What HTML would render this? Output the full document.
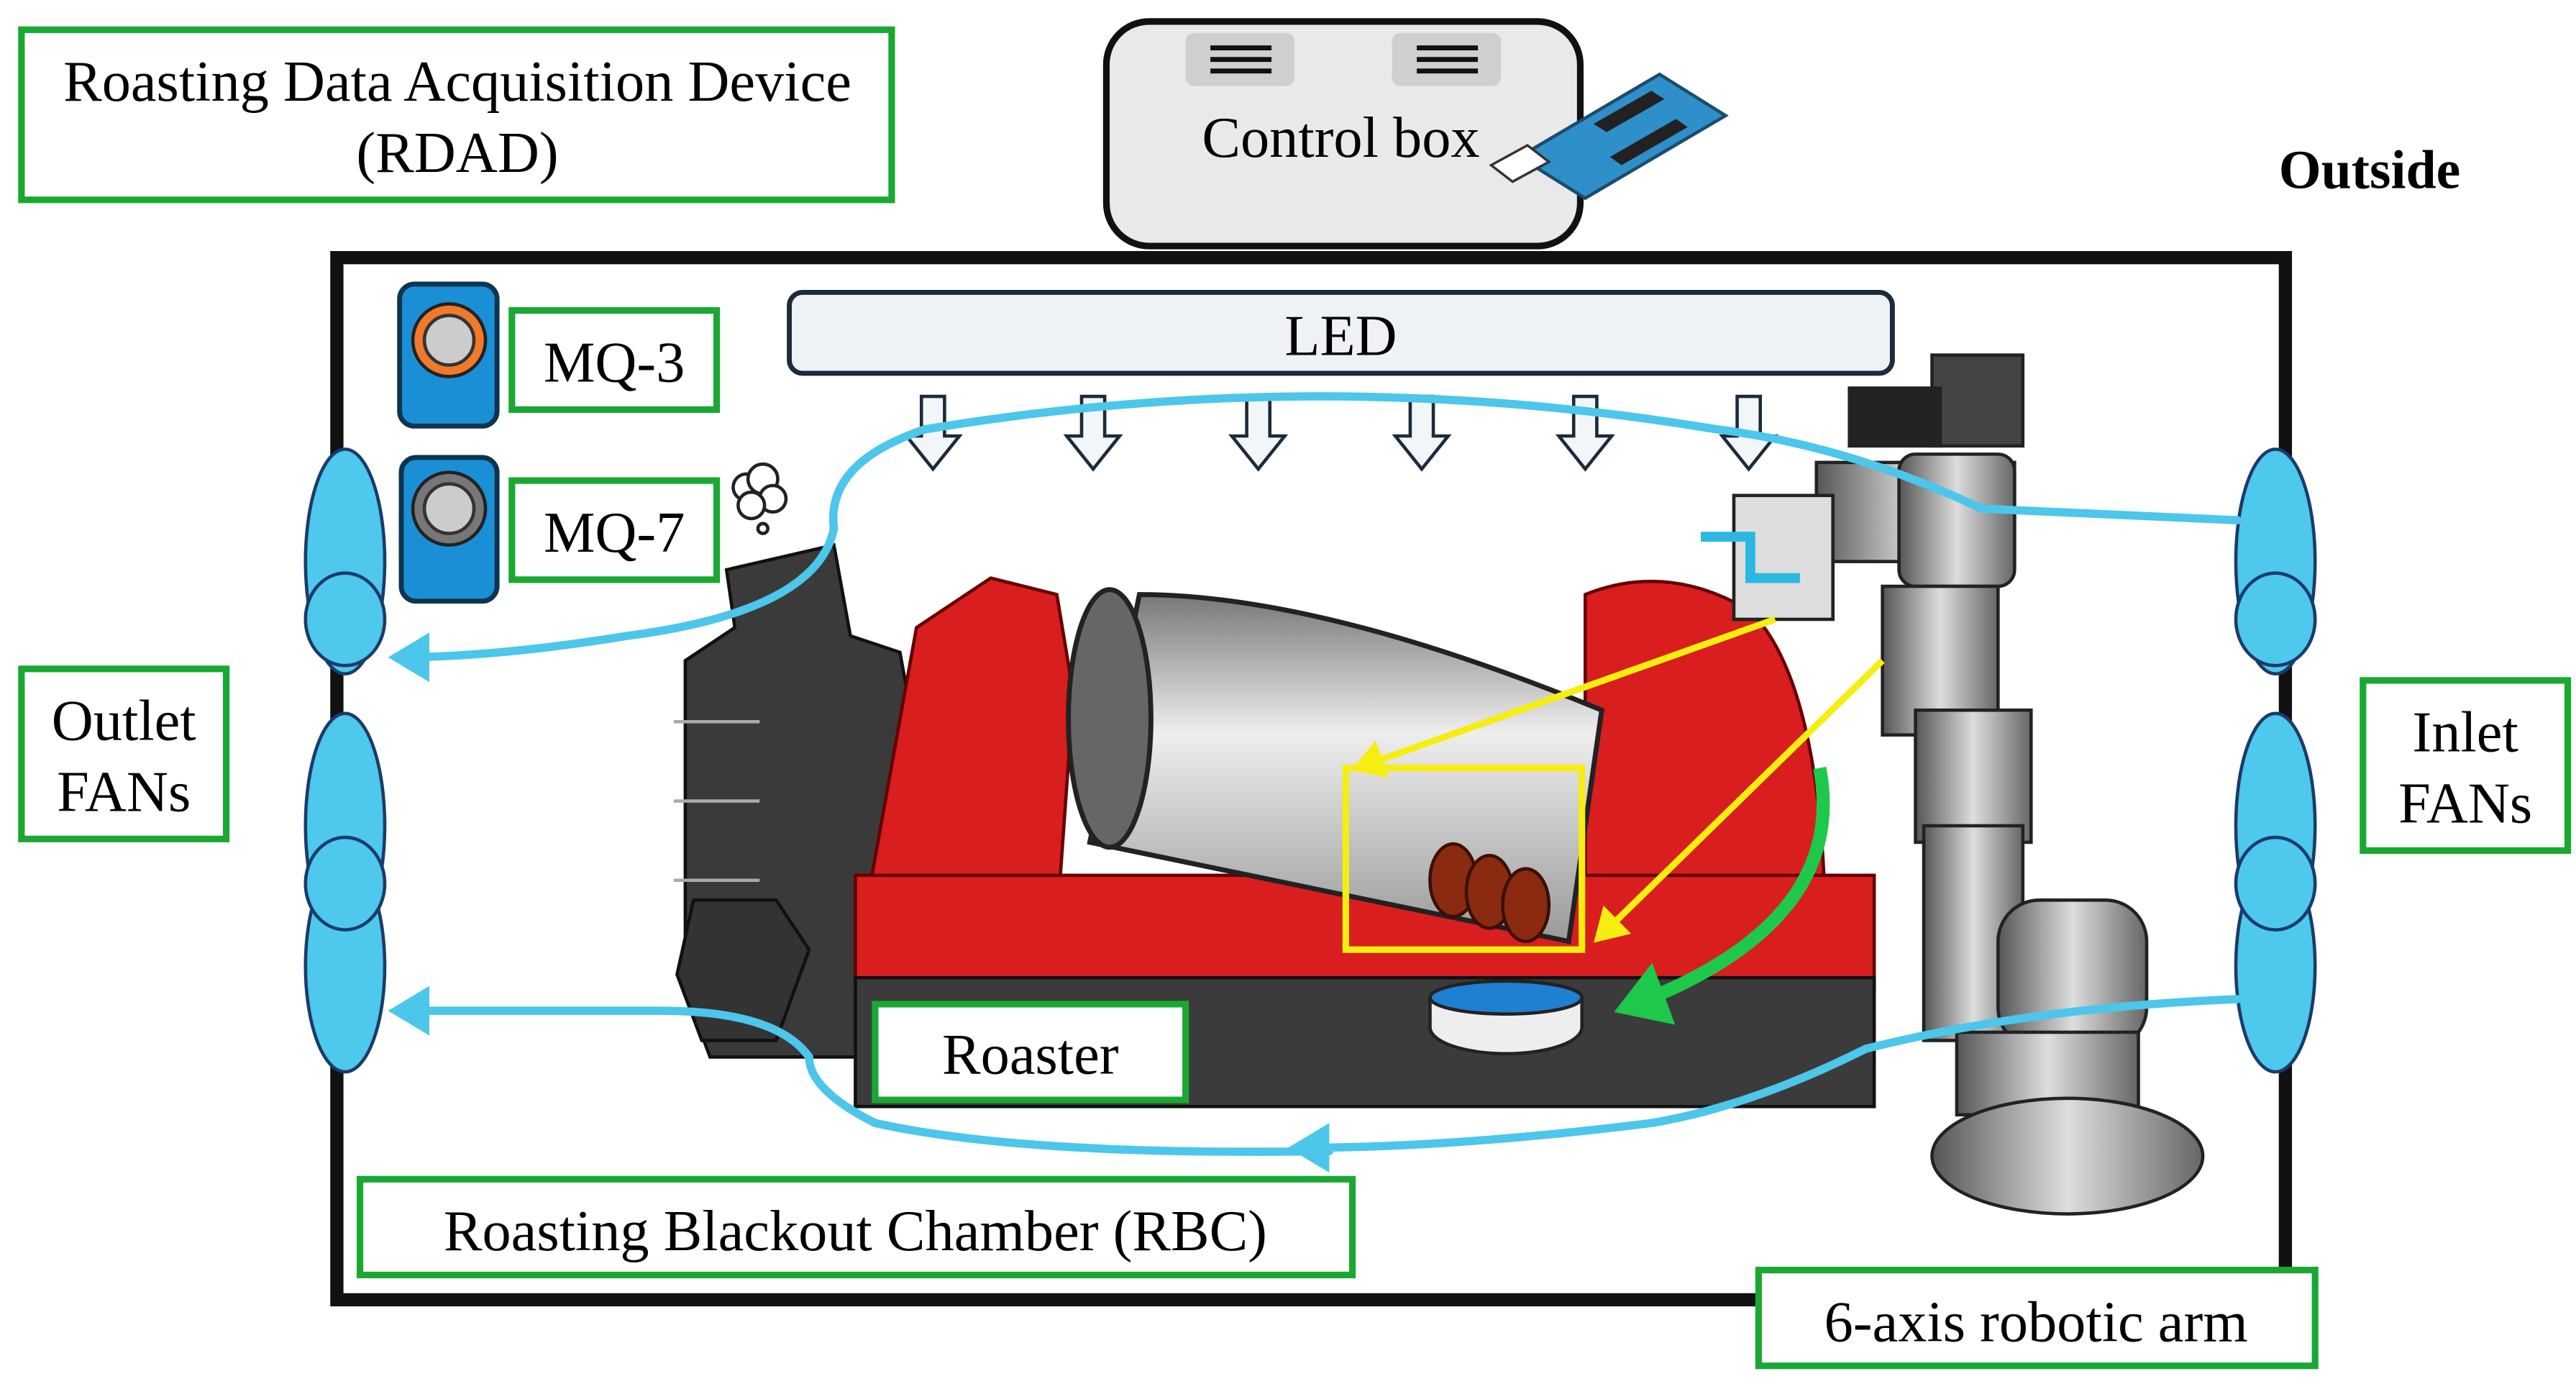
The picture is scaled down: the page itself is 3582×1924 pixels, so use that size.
<!DOCTYPE html>
<html><head><meta charset="utf-8"><style>
html,body{margin:0;padding:0;background:#fff}
svg{display:block}
text{font-family:"Liberation Serif",serif;fill:#000}
</style></head><body>
<svg width="3582" height="1924" viewBox="0 0 1560 838" preserveAspectRatio="none" xmlns="http://www.w3.org/2000/svg">
<defs>
<marker id="ab" markerWidth="6" markerHeight="6" refX="4" refY="3" orient="auto" markerUnits="strokeWidth"><path d="M0,0 L5,3 L0,6 z" fill="#4cc6ea"/></marker>
<marker id="ay" markerWidth="6" markerHeight="6" refX="4" refY="3" orient="auto" markerUnits="strokeWidth"><path d="M0,0 L5,3 L0,6 z" fill="#f5ee10"/></marker>
<marker id="ag" markerWidth="5" markerHeight="5" refX="3" refY="2.5" orient="auto" markerUnits="strokeWidth"><path d="M0,0 L4,2.5 L0,5 z" fill="#1ec84a"/></marker>
<linearGradient id="drum" x1="0" y1="0" x2="0" y2="1"><stop offset="0" stop-color="#777"/><stop offset=".4" stop-color="#eee"/><stop offset="1" stop-color="#999"/></linearGradient>
<linearGradient id="arm" x1="0" y1="0" x2="1" y2="0"><stop offset="0" stop-color="#555"/><stop offset=".5" stop-color="#ddd"/><stop offset="1" stop-color="#666"/></linearGradient>
</defs>

<rect x="13" y="18" width="527" height="103" fill="#fff" stroke="#1aa832" stroke-width="4"/>
<text x="277" y="61" font-size="35" text-anchor="middle">Roasting Data Acquisition Device</text>
<text x="277" y="104" font-size="35" text-anchor="middle">(RDAD)</text>

<rect x="670" y="13" width="287" height="136" rx="26" fill="#e9e9e9" stroke="#111" stroke-width="4"/>
<rect x="718" y="20" width="66" height="32" rx="5" fill="#cfcfcf"/>
<rect x="843" y="20" width="66" height="32" rx="5" fill="#cfcfcf"/>
<g stroke="#111" stroke-width="3"><line x1="733" y1="29" x2="770" y2="29"/><line x1="733" y1="36" x2="770" y2="36"/><line x1="733" y1="43" x2="770" y2="43"/>
<line x1="858" y1="29" x2="895" y2="29"/><line x1="858" y1="36" x2="895" y2="36"/><line x1="858" y1="43" x2="895" y2="43"/></g>
<text x="812" y="95" font-size="35" text-anchor="middle">Control box</text>
<g>
<polygon points="920,95 1005,45 1045,70 960,120" fill="#2f8fc9" stroke="#1c4c6e" stroke-width="2"/>
<polygon points="903,100 925,88 938,98 916,110" fill="#fff" stroke="#333" stroke-width="1.5"/>
<polygon points="965,75 1000,55 1008,60 973,80" fill="#222"/>
<polygon points="975,95 1015,72 1022,77 982,100" fill="#222"/>
</g>
<text x="1435" y="114" font-size="33" font-weight="bold" text-anchor="middle">Outside</text>

<rect x="204" y="156" width="1180" height="631" fill="none" stroke="#111" stroke-width="8"/>

<rect x="478" y="177" width="668" height="49" rx="8" fill="#eef2f6" stroke="#1b2b3c" stroke-width="3"/>
<text x="812" y="215" font-size="35" text-anchor="middle">LED</text>
<g fill="#f3f6f8" stroke="#1b2b3c" stroke-width="2">
<path d="M558,240 h14 v24 h9 l-16,20 l-16,-20 h9 z"/>
<path d="M655,240 h14 v24 h9 l-16,20 l-16,-20 h9 z"/>
<path d="M755,240 h14 v24 h9 l-16,20 l-16,-20 h9 z"/>
<path d="M854,240 h14 v24 h9 l-16,20 l-16,-20 h9 z"/>
<path d="M953,240 h14 v24 h9 l-16,20 l-16,-20 h9 z"/>
<path d="M1052,240 h14 v24 h9 l-16,20 l-16,-20 h9 z"/>
</g>

<rect x="242" y="172" width="59" height="86" rx="9" fill="#1b8fd6" stroke="#0d3550" stroke-width="3"/>
<circle cx="272" cy="206" r="22" fill="#f07a2a" stroke="#222" stroke-width="2"/>
<circle cx="272" cy="206" r="15" fill="#ccc" stroke="#333" stroke-width="2"/>
<rect x="310" y="188" width="124" height="60" fill="#fff" stroke="#1aa832" stroke-width="4"/>
<text x="372" y="231" font-size="35" text-anchor="middle">MQ-3</text>
<rect x="243" y="277" width="58" height="87" rx="9" fill="#1b8fd6" stroke="#0d3550" stroke-width="3"/>
<circle cx="272" cy="308" r="22" fill="#777" stroke="#222" stroke-width="2"/>
<circle cx="272" cy="308" r="15" fill="#ccc" stroke="#333" stroke-width="2"/>
<rect x="310" y="291" width="124" height="60" fill="#fff" stroke="#1aa832" stroke-width="4"/>
<text x="372" y="334" font-size="35" text-anchor="middle">MQ-7</text>
<g fill="#fff" stroke="#222" stroke-width="2"><circle cx="452" cy="295" r="8"/><circle cx="462" cy="290" r="9"/><circle cx="468" cy="302" r="8"/><circle cx="455" cy="306" r="8"/><circle cx="462" cy="320" r="3"/></g>

<g fill="#4ec8ec" stroke="#1a3c6a" stroke-width="2">
<ellipse cx="209" cy="340" rx="24" ry="68"/><ellipse cx="209" cy="500" rx="24" ry="68"/><ellipse cx="209" cy="585" rx="24" ry="64"/>
<ellipse cx="209" cy="375" rx="24" ry="28"/><ellipse cx="209" cy="535" rx="24" ry="28"/>
<ellipse cx="1378" cy="340" rx="24" ry="68"/><ellipse cx="1378" cy="500" rx="24" ry="68"/><ellipse cx="1378" cy="585" rx="24" ry="64"/>
<ellipse cx="1378" cy="375" rx="24" ry="28"/><ellipse cx="1378" cy="535" rx="24" ry="28"/>
</g>
<rect x="13" y="405" width="124" height="103" fill="#fff" stroke="#1aa832" stroke-width="4"/>
<text x="75" y="448" font-size="35" text-anchor="middle">Outlet</text>
<text x="75" y="491" font-size="35" text-anchor="middle">FANs</text>
<rect x="1431" y="412" width="124" height="103" fill="#fff" stroke="#1aa832" stroke-width="4"/>
<text x="1493" y="455" font-size="35" text-anchor="middle">Inlet</text>
<text x="1493" y="498" font-size="35" text-anchor="middle">FANs</text>

<path d="M440,345 L505,330 L515,385 L545,395 L555,450 L540,640 L430,640 L415,600 L415,400 L445,380 Z" fill="#3a3a3a" stroke="#111" stroke-width="2"/>
<polygon points="420,545 470,545 490,575 470,630 425,630 410,590" fill="#333" stroke="#111" stroke-width="2"/>
<g stroke="#aaa" stroke-width="2"><line x1="408" y1="437" x2="460" y2="437"/><line x1="408" y1="485" x2="460" y2="485"/><line x1="408" y1="533" x2="460" y2="533"/></g>
<path d="M520,575 L555,380 L600,350 L640,360 L650,420 L640,560 Z" fill="#d81e1e" stroke="#600" stroke-width="2"/>
<path d="M960,360 Q1010,340 1060,370 Q1100,410 1105,540 L960,540 Z" fill="#d81e1e" stroke="#600" stroke-width="2"/>
<rect x="518" y="530" width="617" height="70" fill="#d81e1e" stroke="#600" stroke-width="2"/>
<rect x="518" y="592" width="617" height="78" fill="#3b3b3b" stroke="#111" stroke-width="2"/>
<path d="M690,360 Q800,360 970,430 L950,570 L660,510 Z" fill="url(#drum)" stroke="#222" stroke-width="3"/>
<ellipse cx="672" cy="435" rx="25" ry="78" fill="#666" stroke="#222" stroke-width="3"/>
<rect x="815" y="465" width="143" height="110" fill="none" stroke="#f5ee10" stroke-width="4"/>
<g fill="#8a2a10" stroke="#3a1005" stroke-width="2">
<ellipse cx="880" cy="533" rx="14" ry="22"/><ellipse cx="902" cy="540" rx="14" ry="22"/><ellipse cx="924" cy="548" rx="14" ry="22"/></g>
<ellipse cx="912" cy="622" rx="46" ry="16" fill="#eee" stroke="#222" stroke-width="2"/>
<rect x="866" y="604" width="92" height="18" fill="#eee"/>
<line x1="866" y1="604" x2="866" y2="622" stroke="#222" stroke-width="2"/><line x1="958" y1="604" x2="958" y2="622" stroke="#222" stroke-width="2"/>
<ellipse cx="912" cy="604" rx="46" ry="10" fill="#1f7fd0" stroke="#222" stroke-width="2"/>
<rect x="530" y="608" width="188" height="58" fill="#fff" stroke="#1aa832" stroke-width="4"/>
<text x="624" y="650" font-size="35" text-anchor="middle">Roaster</text>

<g stroke="#222" stroke-width="2">
<rect x="1170" y="215" width="55" height="55" fill="#444"/>
<rect x="1120" y="235" width="55" height="35" fill="#222"/>
<rect x="1100" y="280" width="120" height="60" fill="url(#arm)"/>
<rect x="1150" y="275" width="70" height="80" rx="10" fill="url(#arm)"/>
<rect x="1050" y="300" width="60" height="75" fill="#ddd"/>
<rect x="1140" y="355" width="70" height="90" fill="url(#arm)"/>
<rect x="1160" y="430" width="70" height="80" fill="url(#arm)"/>
<rect x="1165" y="500" width="60" height="130" fill="url(#arm)"/>
<rect x="1210" y="545" width="90" height="90" rx="25" fill="url(#arm)"/>
<rect x="1185" y="625" width="110" height="50" fill="url(#arm)"/>
<ellipse cx="1252" cy="700" rx="82" ry="35" fill="url(#arm)"/>
</g>
<path d="M1030,325 h30 v25 h30" fill="none" stroke="#2bb8e0" stroke-width="6"/>

<g stroke="#f5ee10" stroke-width="4" fill="none">
<line x1="1075" y1="375" x2="822" y2="465" marker-end="url(#ay)"/>
<line x1="1140" y1="400" x2="968" y2="568" marker-end="url(#ay)"/>
</g>
<path d="M1102,465 Q1120,560 985,610" fill="none" stroke="#1ec84a" stroke-width="8" marker-end="url(#ag)"/>

<g stroke="#4cc6ea" stroke-width="5" fill="none" stroke-linecap="round">
<path d="M1355,315 L1200,308 Q1120,270 1040,260 Q800,220 560,260 Q500,280 505,320 Q495,370 380,385 Q300,398 240,398" marker-end="url(#ab)"/>
<path d="M1355,605 Q1230,610 1130,635 Q1060,670 1000,680 Q880,695 785,695" marker-end="url(#ab)"/>
<path d="M805,697 Q620,700 530,680 Q490,660 490,640 Q470,612 400,612 L240,612" marker-end="url(#ab)"/>
</g>

<rect x="218" y="714" width="601" height="58" fill="#fff" stroke="#1aa832" stroke-width="4"/>
<text x="518" y="757" font-size="35" text-anchor="middle">Roasting Blackout Chamber (RBC)</text>
<rect x="1065" y="769" width="337" height="58" fill="#fff" stroke="#1aa832" stroke-width="4"/>
<text x="1233" y="812" font-size="35" text-anchor="middle">6-axis robotic arm</text>
</svg>
</body></html>
